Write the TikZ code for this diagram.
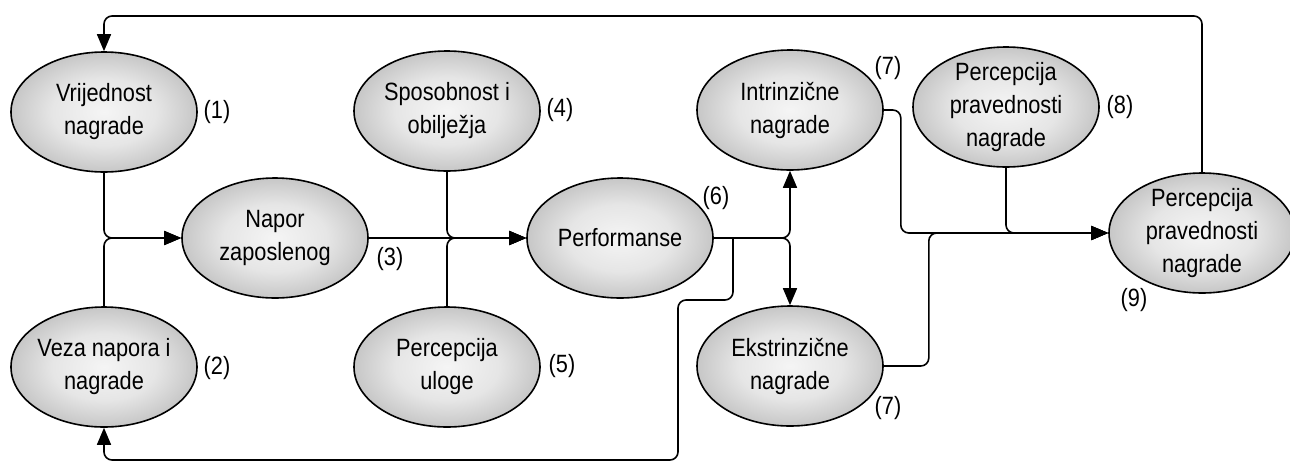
\documentclass[tikz,border=0pt]{standalone}
\usepackage{fontspec}
\setmainfont[FakeStretch=0.87]{Liberation Sans}
\usetikzlibrary{arrows.meta,shapes.geometric}
\pgfdeclareradialshading{ovalshade}{\pgfpoint{0bp}{0bp}}{color(0bp)=(black!4); color(14bp)=(black!10); color(34bp)=(black!32); color(50bp)=(black!58)}
\begin{document}
\begin{tikzpicture}[x=1pt,y=-1pt,
  ell/.style={ellipse, draw=black, line width=1.6pt, minimum width=186pt, minimum height=120pt, inner sep=0pt, shade, shading=ovalshade},
  txt/.style={align=center, font=\fontsize{25}{33}\selectfont, inner sep=0pt},
  num/.style={font=\fontsize{25}{28}\selectfont, inner sep=0pt},
  conn/.style={line width=1.6pt, rounded corners=8pt},
  arr/.style={conn, -{Triangle[length=17pt,width=14pt]}}]
\useasboundingbox (0,0) rectangle (1290,464);

\node[ell, label={[txt]center:{Vrijednost\\nagrade}}] (n1) at (104,112) {};
\node[ell, label={[txt]center:{Veza napora i\\nagrade}}] (n2) at (104,367) {};
\node[ell, label={[txt]center:{Napor\\zaposlenog}}] (n3) at (275,238) {};
\node[ell, label={[txt]center:{Sposobnost i\\obilježja}}] (n4) at (447,111) {};
\node[ell, label={[txt]center:{Percepcija\\uloge}}] (n5) at (447,367) {};
\node[ell, label={[txt]center:{Performanse}}] (n6) at (620,238) {};
\node[ell, label={[txt]center:{Intrinzične\\nagrade}}] (n7) at (790,110) {};
\node[ell, label={[txt]center:{Ekstrinzične\\nagrade}}] (n8) at (790,366) {};
\node[ell, label={[txt]center:{Percepcija\\pravednosti\\nagrade}}] (n9) at (1006,107) {};
\node[ell, label={[txt]center:{Percepcija\\pravednosti\\nagrade}}] (n10) at (1202,233) {};

\node[num] (l1) at (217,112) {(1)};
\node[num] (l2) at (217,368) {(2)};
\node[num] (l3) at (390,259) {(3)};
\node[num] (l4) at (560,110) {(4)};
\node[num] (l5) at (562,366) {(5)};
\node[num] (l6) at (716,198) {(6)};
\node[num] (l7a) at (888,68) {(7)};
\node[num] (l7b) at (888,408) {(7)};
\node[num] (l8) at (1120,107) {(8)};
\node[num] (l9) at (1134,300) {(9)};

\coordinate (topy) at (0,16);
\coordinate (fb) at (733,238);

\draw[arr] (n1.south) |- (n3.west);
\draw[arr] (n2.north) |- (n3.west);
\draw[arr] (n3.east) -- (n6.west);
\draw[arr] (n4.south) |- (n6.west);
\draw[arr] (n5.north) |- (n6.west);
\draw[arr] (n6.east) -| (n7.south);
\draw[arr] (n6.east) -| (n8.north);
\draw[arr] (fb) -- (733,300) -- (678,300) -- (678,460) -| (n2.south);
\draw[arr] (n10.north) -- (n10.north |- topy) -| (n1.north);
\draw[arr] (n7.east) -- ++(17,0) |- (n10.west);
\draw[arr] (n9.south) |- (n10.west);
\draw[arr] (n8.east) -- ++(45,0) |- (n10.west);
\end{tikzpicture}
\end{document}
